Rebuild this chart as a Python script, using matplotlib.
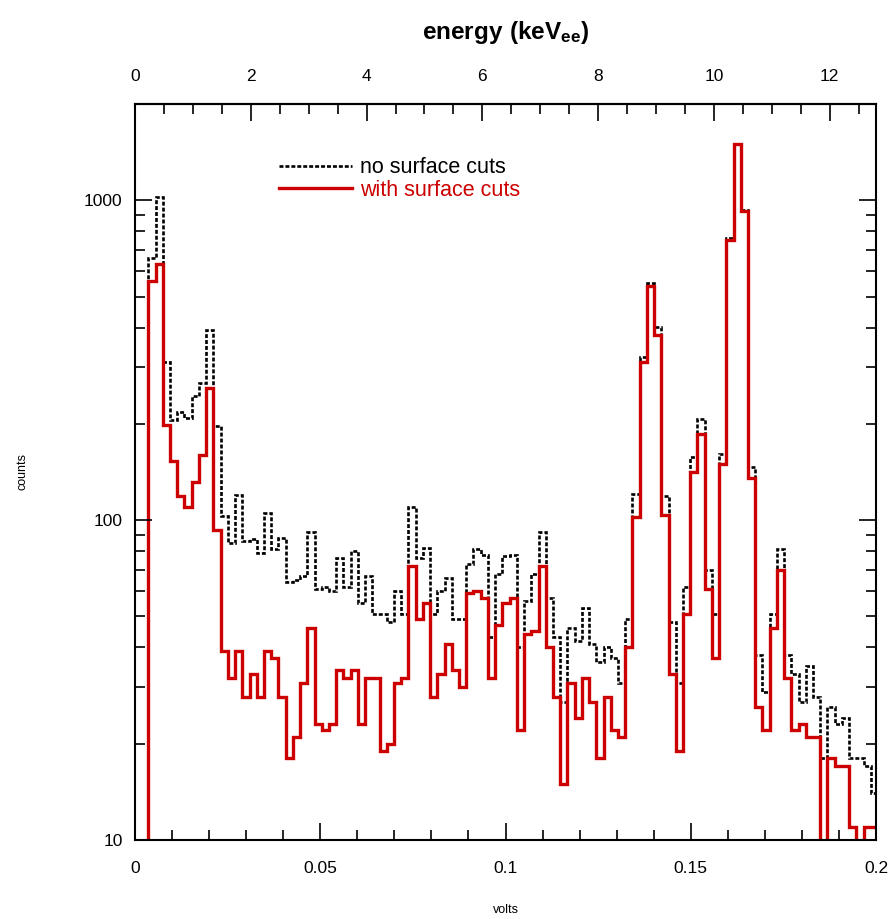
import numpy as np
import matplotlib
matplotlib.use('Agg')
import matplotlib.pyplot as plt
from matplotlib.ticker import (MultipleLocator, FixedLocator, LogLocator,
                               FuncFormatter, NullFormatter)

plt.rcParams['font.family'] = ['Liberation Sans', 'DejaVu Sans']
plt.rcParams['mathtext.fontset'] = 'custom'
plt.rcParams['mathtext.bf'] = 'Liberation Sans:bold'
plt.rcParams['mathtext.rm'] = 'Liberation Sans'

# histogram binning (volts)
bin_start = 0.0036
bin_width = 0.00195
kev_per_volt = 64.0

# counts per bin
no_cuts = [661, 1020, 311, 206, 217, 209, 244, 268, 394, 197,
           103, 85, 120, 86, 87, 79, 105, 81, 88, 64,
           65, 67, 92, 61, 62, 60, 76, 62, 80, 55,
           67, 51, 51, 48, 60, 51, 110, 76, 82, 51,
           60, 66, 49, 49, 73, 81, 78, 43, 68, 77,
           78, 40, 56, 68, 92, 57, 43, 27, 46, 42,
           53, 41, 36, 40, 37, 31, 49, 121, 323, 552,
           401, 119, 48, 31, 62, 158, 207, 70, 51, 161,
           760, 1500, 930, 147, 38, 29, 51, 81, 38, 33,
           27, 35, 28, 18, 26, 23, 24, 18, 18, 17, 14]
with_cuts = [559, 630, 199, 153, 119, 110, 132, 160, 258, 93,
             39, 32, 39, 28, 33, 28, 39, 37, 28, 18,
             21, 31, 46, 23, 22, 23, 34, 32, 34, 23,
             32, 32, 19, 20, 31, 32, 72, 49, 55, 28,
             33, 41, 34, 30, 59, 60, 57, 32, 47, 55,
             57, 22, 44, 45, 72, 40, 28, 15, 31, 24,
             32, 27, 18, 28, 22, 21, 40, 102, 312, 541,
             378, 104, 33, 19, 51, 141, 186, 61, 37, 150,
             752, 1496, 925, 135, 26, 22, 46, 70, 32, 22,
             23, 21, 21, 0, 18, 17, 17, 11, 0, 11, 11]
energy_ticks = [0, 2, 4, 6, 8, 10, 12]

edges = bin_start + bin_width * np.arange(len(no_cuts) + 1)

red = '#cc0000'

fig = plt.figure(figsize=(8.93, 9.19), dpi=100)
ax = fig.add_axes([0.1512, 0.086, 0.8298, 0.8009])

ax.stairs(np.maximum(no_cuts, 1), edges, baseline=1, color='black', lw=1.9,
          ls=(0, (1.5, 0.75)), label='no surface cuts')
ax.stairs(np.maximum(with_cuts, 1), edges, baseline=1, color=red, lw=2.4,
          label='with surface cuts')

ax.set_yscale('log')
ax.set_xlim(0, 0.2)
ax.set_ylim(10, 2000)

ax.xaxis.set_major_locator(MultipleLocator(0.05))
ax.xaxis.set_minor_locator(MultipleLocator(0.01))
ax.xaxis.set_major_formatter(FuncFormatter(lambda v, p: '%g' % round(v, 3)))
ax.yaxis.set_major_locator(LogLocator(base=10))
ax.yaxis.set_minor_locator(LogLocator(base=10, subs=np.arange(2, 10)))
ax.yaxis.set_major_formatter(FuncFormatter(lambda v, p: '%d' % v))
ax.yaxis.set_minor_formatter(NullFormatter())

ax.tick_params(which='both', direction='in', top=False, right=True, width=1.2)
ax.tick_params(which='major', length=12, labelsize=12.5)
ax.tick_params(which='minor', length=7)
ax.tick_params(axis='x', which='major', pad=15)
ax.tick_params(axis='y', which='major', pad=9)
for sp in ax.spines.values():
    sp.set_linewidth(1.5)

ax.set_xlabel('volts', fontsize=9, labelpad=20)
ax.set_ylabel('counts', fontsize=9, labelpad=40)

secax = ax.secondary_xaxis('top', functions=(lambda v: v * kev_per_volt,
                                             lambda e: e / kev_per_volt))
secax.xaxis.set_major_locator(FixedLocator(energy_ticks))
secax.xaxis.set_minor_locator(MultipleLocator(0.5))
secax.tick_params(which='both', direction='in', width=1.2)
secax.tick_params(which='major', length=12, labelsize=12.5, pad=14)
secax.tick_params(which='minor', length=7)
secax.spines['top'].set_linewidth(1.5)
secax.set_xlabel(r'$\mathbf{energy\ (keV_{ee})}$', fontsize=17.5, labelpad=22)

leg = ax.legend(loc='upper left', bbox_to_anchor=(0.183, 0.939), frameon=False,
                handlelength=3.4, fontsize=15.5, handletextpad=0.35,
                labelspacing=0.05, borderaxespad=0)
leg.get_texts()[1].set_color(red)

fig.savefig('out.png', dpi=100)
